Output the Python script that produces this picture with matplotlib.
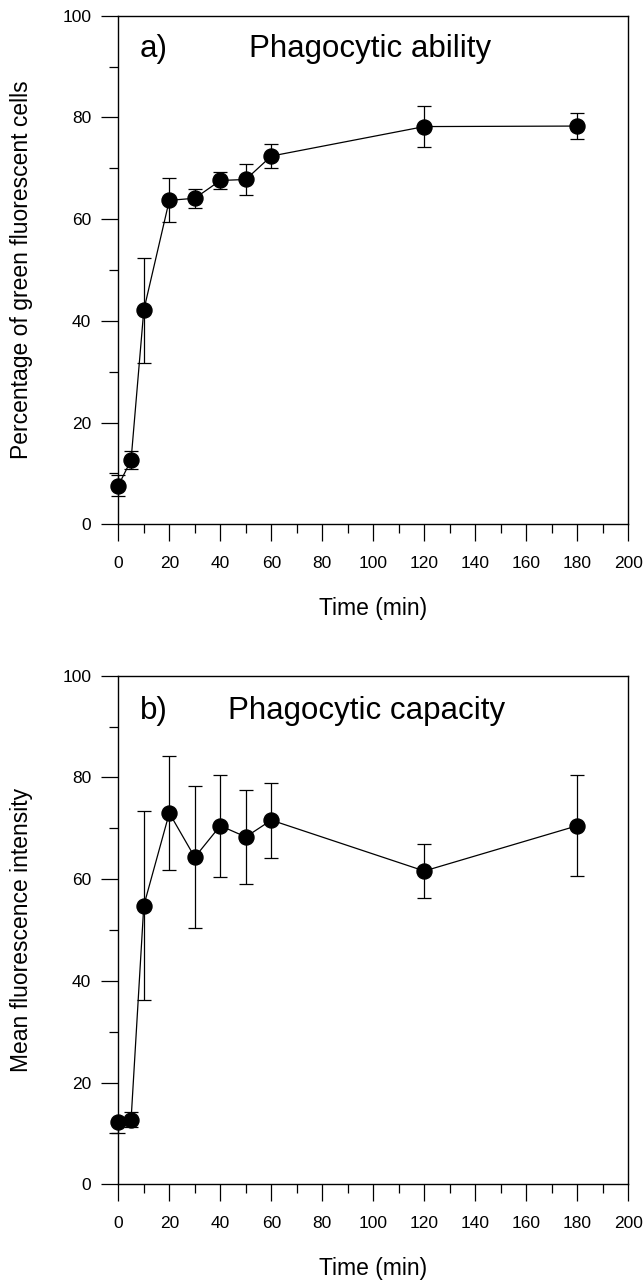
import matplotlib
matplotlib.use("Agg")
import matplotlib.pyplot as plt
from matplotlib.ticker import MultipleLocator

plt.rcParams['font.family'] = ['Liberation Sans', 'DejaVu Sans']

time_min = [0, 5, 10, 20, 30, 40, 50, 60, 120, 180]

ability = [7.6, 12.6, 42.1, 63.7, 64.1, 67.6, 67.8, 72.4, 78.2, 78.3]
ability_err = [2.1, 1.75, 10.3, 4.3, 1.9, 1.6, 3.0, 2.3, 4.0, 2.5]

capacity = [12.3, 12.6, 54.8, 73.0, 64.3, 70.5, 68.3, 71.6, 61.6, 70.5]
capacity_err_lo = [2.3, 1.4, 18.5, 11.2, 14.0, 10.0, 9.3, 7.4, 5.4, 9.9]
capacity_err_hi = [0.0, 1.6, 18.5, 11.2, 14.0, 10.0, 9.3, 7.4, 5.4, 9.9]

x_ticks = [0, 20, 40, 60, 80, 100, 120, 140, 160, 180, 200]
y_ticks = [0, 20, 40, 60, 80, 100]

panels = [
    dict(tag="a)", title="Phagocytic ability",
         ylabel="Percentage of green fluorescent cells",
         y=ability, yerr=[ability_err, ability_err],
         rect=[118.3/644, 1-524.3/1281, 510/644, 508.6/1281],
         tag_y=0.919, title_x=0.2563),
    dict(tag="b)", title="Phagocytic capacity",
         ylabel="Mean fluorescence intensity",
         y=capacity, yerr=[capacity_err_lo, capacity_err_hi],
         rect=[118.3/644, 1-1184.3/1281, 510/644, 508.6/1281],
         tag_y=0.914, title_x=0.215),
]

fig = plt.figure(figsize=(6.44, 12.81), dpi=100)

for p in panels:
    ax = fig.add_axes(p["rect"])
    ax.errorbar(time_min, p["y"], yerr=p["yerr"], fmt='-o', color='black',
                lw=0.9, elinewidth=0.9, capsize=5.3, capthick=0.9,
                markersize=10.8, markerfacecolor='black', markeredgecolor='black',
                clip_on=False, zorder=3)
    ax.set_xlim(0, 200)
    ax.set_ylim(0, 100)
    ax.set_xticks(x_ticks)
    ax.set_yticks(y_ticks)
    ax.xaxis.set_minor_locator(MultipleLocator(10))
    ax.yaxis.set_minor_locator(MultipleLocator(10))
    ax.tick_params(which='major', direction='out', length=12.4, width=0.9,
                   labelsize=12.5, top=False, right=False)
    ax.tick_params(which='minor', direction='out', length=6.5, width=0.9,
                   top=False, right=False)
    ax.tick_params(axis='x', which='major', pad=10.5)
    ax.tick_params(axis='y', which='major', pad=7)
    for s in ax.spines.values():
        s.set_linewidth(1.0)
    ax.set_xlabel("Time (min)", fontsize=16.5, labelpad=19)
    ax.set_ylabel(p["ylabel"], fontsize=16.5, labelpad=21)
    ax.text(0.0425, p["tag_y"], p["tag"], transform=ax.transAxes,
            fontsize=22.5, ha='left', va='baseline')
    ax.text(p["title_x"], p["tag_y"], p["title"], transform=ax.transAxes,
            fontsize=22.5, ha='left', va='baseline')

fig.savefig("out.png", dpi=100)
